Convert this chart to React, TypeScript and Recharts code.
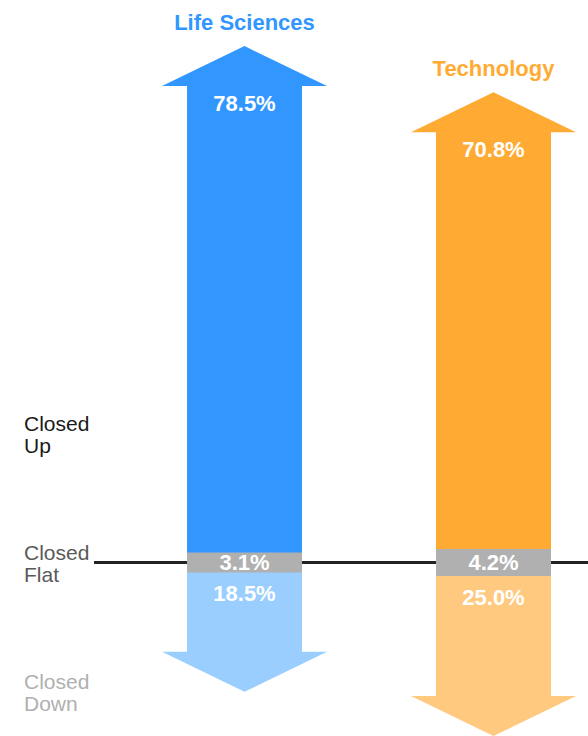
import { BarChart, Bar, XAxis, YAxis, Cell, LabelList, CartesianGrid } from 'recharts';

const categories = ['Life Sciences', 'Technology'];
const closedUp = [78.5, 70.8];
const closedFlat = [3.1, 4.2];
const closedDown = [18.5, 25.0];

// rows on the left side of the chart
const outcomeTicks = [20, 0, -20];
const outcomeLabels = [['Closed', 'Up'], ['Closed', 'Flat'], ['Closed', 'Down']];
const outcomeColors = ['#1a1a1a', '#5a5a5a', '#b0b0b0'];

const upColors = ['#3197FF', '#FFAB33'];
const downColors = ['#99CEFF', '#FFC980'];
const flatColor = '#B0B0B1';

const FONT = '"Liberation Sans", Arial, Helvetica, sans-serif';
const HEAD = 40;
const WING = 25;

const data = categories.map((name, i) => ({
  name,
  up: closedUp[i],
  flat: closedFlat[i],
  flatTop: closedFlat[i] / 2,
  flatBottom: -closedFlat[i] / 2,
  down: -closedDown[i],
  downPct: closedDown[i],
}));

const pct = (v: number) => `${Number(v).toFixed(1)}%`;

function span(y: number, h: number) {
  return [Math.min(y, y + h), Math.max(y, y + h)];
}

function UpArrow(props: any) {
  const { x, y, width, height, fill } = props;
  const [top, bottom] = span(y, height);
  const pts = [
    [x, bottom],
    [x, top + HEAD],
    [x - WING, top + HEAD],
    [x + width / 2, top],
    [x + width + WING, top + HEAD],
    [x + width, top + HEAD],
    [x + width, bottom],
  ];
  return <polygon points={pts.map((p) => p.join(',')).join(' ')} fill={fill} />;
}

function DownArrow(props: any) {
  const { x, y, width, height, fill } = props;
  const [top, bottom] = span(y, height);
  const pts = [
    [x, top],
    [x, bottom - HEAD],
    [x - WING, bottom - HEAD],
    [x + width / 2, bottom],
    [x + width + WING, bottom - HEAD],
    [x + width, bottom - HEAD],
    [x + width, top],
  ];
  return <polygon points={pts.map((p) => p.join(',')).join(' ')} fill={fill} />;
}

// the two halves of the flat box overlap a little so the zero line doesn't bleed through the seam
function FlatBox(props: any) {
  const { x, y, width, height, fill } = props;
  const [top, bottom] = span(y, height);
  return <rect x={x} y={top - 1} width={width} height={bottom - top + 2} fill={fill} />;
}

function UpLabel(props: any) {
  const { x, y, width, height, value, index } = props;
  const [top] = span(y, height);
  const cx = x + width / 2;
  return (
    <g style={{ fontFamily: FONT, fontWeight: 700 }}>
      <text x={cx} y={top - 24} dy="0.36em" textAnchor="middle" fontSize={22} fill={upColors[index]}>
        {categories[index]}
      </text>
      <text x={cx} y={top + 57} dy="0.36em" textAnchor="middle" fontSize={22} fill="#fff">
        {pct(value)}
      </text>
    </g>
  );
}

function FlatLabel(props: any) {
  const { x, y, width, height, value } = props;
  const [, bottom] = span(y, height);
  return (
    <text x={x + width / 2} y={bottom} dy="0.36em" textAnchor="middle" fontSize={22}
      fontWeight={700} fontFamily={FONT} fill="#fff">
      {pct(value)}
    </text>
  );
}

function DownLabel(props: any) {
  const { x, y, width, height, value } = props;
  const [top] = span(y, height);
  return (
    <text x={x + width / 2} y={top + 21} dy="0.36em" textAnchor="middle" fontSize={22}
      fontWeight={700} fontFamily={FONT} fill="#fff">
      {pct(value)}
    </text>
  );
}

function OutcomeTick(props: any) {
  const { y, payload } = props;
  const i = outcomeTicks.indexOf(payload.value);
  if (i < 0) return null;
  return (
    <text x={24} y={y} fontSize={21} fontFamily={FONT} fill={outcomeColors[i]}>
      <tspan x={24} dy="-0.1em">{outcomeLabels[i][0]}</tspan>
      <tspan x={24} dy="1.05em">{outcomeLabels[i][1]}</tspan>
    </text>
  );
}

export default function App() {
  return (
    <div style={{ position: 'absolute', left: 0, top: 0, width: 588, height: 736, overflow: 'hidden', background: '#fff' }}>
      <BarChart
        width={618}
        height={736}
        data={data}
        stackOffset="sign"
        barSize={115}
        margin={{ top: 0, right: 0, bottom: 0, left: 0 }}
      >
        {/* the zero line sits behind the arrows */}
        <CartesianGrid vertical={false} horizontalValues={[0]} stroke="#222" strokeWidth={3} />
        <XAxis dataKey="name" hide padding={{ left: 26, right: 0 }} />
        <YAxis
          type="number"
          domain={[-26.9, 87.2]}
          allowDataOverflow
          ticks={outcomeTicks}
          width={94}
          axisLine={false}
          tickLine={false}
          tick={<OutcomeTick />}
        />
        <Bar dataKey="flatTop" stackId="a" fill={flatColor} shape={<FlatBox />} isAnimationActive={false}>
          <LabelList dataKey="flat" content={<FlatLabel />} />
        </Bar>
        <Bar dataKey="up" stackId="a" shape={<UpArrow />} isAnimationActive={false}>
          {data.map((d, i) => (
            <Cell key={d.name} fill={upColors[i]} />
          ))}
          <LabelList dataKey="up" content={<UpLabel />} />
        </Bar>
        <Bar dataKey="flatBottom" stackId="a" fill={flatColor} shape={<FlatBox />} isAnimationActive={false} />
        <Bar dataKey="down" stackId="a" shape={<DownArrow />} isAnimationActive={false}>
          {data.map((d, i) => (
            <Cell key={d.name} fill={downColors[i]} />
          ))}
          <LabelList dataKey="downPct" content={<DownLabel />} />
        </Bar>
      </BarChart>
    </div>
  );
}
